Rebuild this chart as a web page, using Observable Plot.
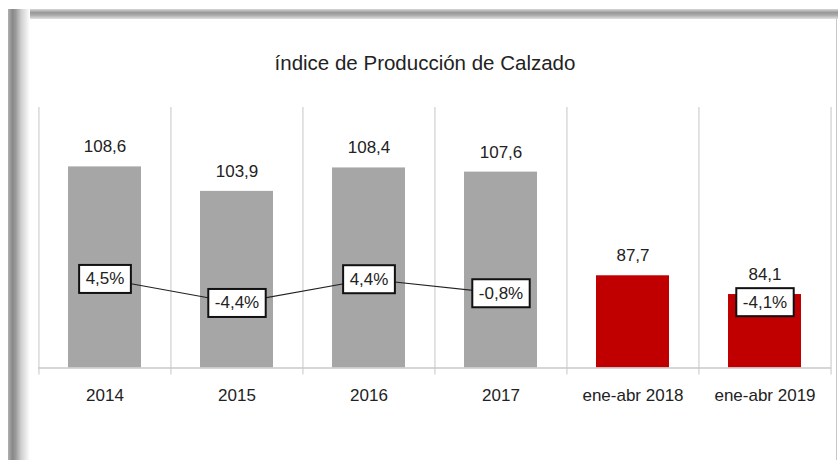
<!DOCTYPE html>
<html>
<head>
<meta charset="utf-8">
<script src="https://cdn.jsdelivr.net/npm/d3@7"></script>
<script src="https://cdn.jsdelivr.net/npm/@observablehq/plot@0.6"></script>
<style>
  html, body { margin: 0; padding: 0; background: #fff; }
  #wrap { position: relative; width: 838px; height: 460px; overflow: hidden; background: #fff;
          font-family: "Liberation Sans", Arial, sans-serif; }
  #topbar { position: absolute; left: 8px; top: 9px; width: 830px; height: 10px;
            background: linear-gradient(to bottom, #d8d8d8 0%, #9a9a9a 35%, #a8a8a8 60%, #e2e2e2 100%); }
  #leftbar { position: absolute; left: 8px; top: 9px; width: 22px; height: 451px;
             background: linear-gradient(to right, #b0b0b0 0%, #888 20%, #9a9a9a 35%, #cfcfcf 60%, #fff 100%); }
  #rightline { position: absolute; left: 836px; top: 19px; width: 1px; height: 441px; background: #c8c8c8; }
  #title { position: absolute; left: 0; top: 53px; width: 850px; text-align: center;
           font-size: 20.5px; line-height: 20px; color: #222; }
  #chart { position: absolute; left: 0; top: 0; }
</style>
</head>
<body>
<div id="wrap">
  <div id="topbar"></div>
  <div id="leftbar"></div>
  <div id="rightline"></div>
  <div id="chart"></div>
  <div id="title">índice de Producción de Calzado</div>
</div>
<script>
// ---- data ----
const categories = ["2014", "2015", "2016", "2017", "ene-abr 2018", "ene-abr 2019"];
const indexValues = [108.6, 103.9, 108.4, 107.6, 87.7, 84.1];
const pctCategories = ["2014", "2015", "2016", "2017", "ene-abr 2019"];
const pctValues = [4.5, -4.4, 4.4, -0.8, -4.1];

// ---- secondary axis mapping (percent -> index units) ----
const pctZero = 84.75;   // where 0% sits on the index axis
const pctUnit = 0.518;   // index units per percentage point
const pctToY = p => pctZero + p * pctUnit;

const bars = categories.map((c, i) => ({cat: c, value: indexValues[i]}));
const pcts = pctCategories.map((c, i) => ({cat: c, pct: pctValues[i]}));
const annualPcts = pcts.filter(d => !d.cat.startsWith("ene"));

const fmt = v => v.toFixed(1).replace(".", ",");
const GRAY = "#a6a6a6", RED = "#c00000", INK = "#222";

const W = 838, H = 460, ML = 38, MR = 7;
const step = (W - ML - MR) / categories.length;

const chart = Plot.plot({
  width: W, height: H,
  marginLeft: ML, marginRight: MR, marginTop: 107, marginBottom: 92.5,
  style: {fontFamily: "'Liberation Sans', Arial, sans-serif", background: "transparent", overflow: "visible"},
  x: {domain: categories, paddingInner: 0.447, paddingOuter: 0.2235, label: null},
  y: {domain: [70, 120], axis: null},
  marks: [
    Plot.ruleX(categories, {x: d => d, dx: -step / 2, stroke: "#d9d9d9", strokeWidth: 1.5, insetBottom: -7}),
    Plot.ruleX([categories[categories.length - 1]], {x: d => d, dx: step / 2, stroke: "#d9d9d9", strokeWidth: 1.5, insetBottom: -7}),
    Plot.barY(bars, {x: "cat", y1: 70, y2: "value", fill: d => d.cat.startsWith("ene") ? RED : GRAY}),
    Plot.ruleY([70], {stroke: "#c8c8c8", strokeWidth: 1.5}),
    Plot.text(bars, {x: "cat", y: "value", text: d => fmt(d.value), dy: -20, fontSize: 17, fill: INK}),
    Plot.axisX({tickSize: 0, tickPadding: 21, fontSize: 17, fill: INK, label: null}),
    Plot.line(annualPcts, {x: "cat", y: d => pctToY(d.pct), stroke: INK, strokeWidth: 1.2}),
    Plot.text(pcts, {x: "cat", y: d => pctToY(d.pct), text: d => fmt(d.pct) + "%", fontSize: 17, fill: INK})
  ]
});

document.getElementById("chart").appendChild(chart);

// draw white boxes with black border behind the percentage labels
const textGroups = chart.querySelectorAll('g[aria-label="text"]');
const pctGroup = textGroups[textGroups.length - 1];
const NS = "http://www.w3.org/2000/svg";
pctGroup.querySelectorAll("text").forEach(t => {
  const bb = t.getBBox();
  const padX = 6.5, padY = 4.5;
  const r = document.createElementNS(NS, "rect");
  r.setAttribute("x", bb.x - padX);
  r.setAttribute("y", bb.y - padY);
  r.setAttribute("width", bb.width + 2 * padX);
  r.setAttribute("height", bb.height + 2 * padY);
  r.setAttribute("fill", "#fff");
  r.setAttribute("stroke", "#111");
  r.setAttribute("stroke-width", "2");
  const tr = t.getAttribute("transform");
  if (tr) r.setAttribute("transform", tr);
  t.parentNode.insertBefore(r, t);
});
</script>
</body>
</html>
